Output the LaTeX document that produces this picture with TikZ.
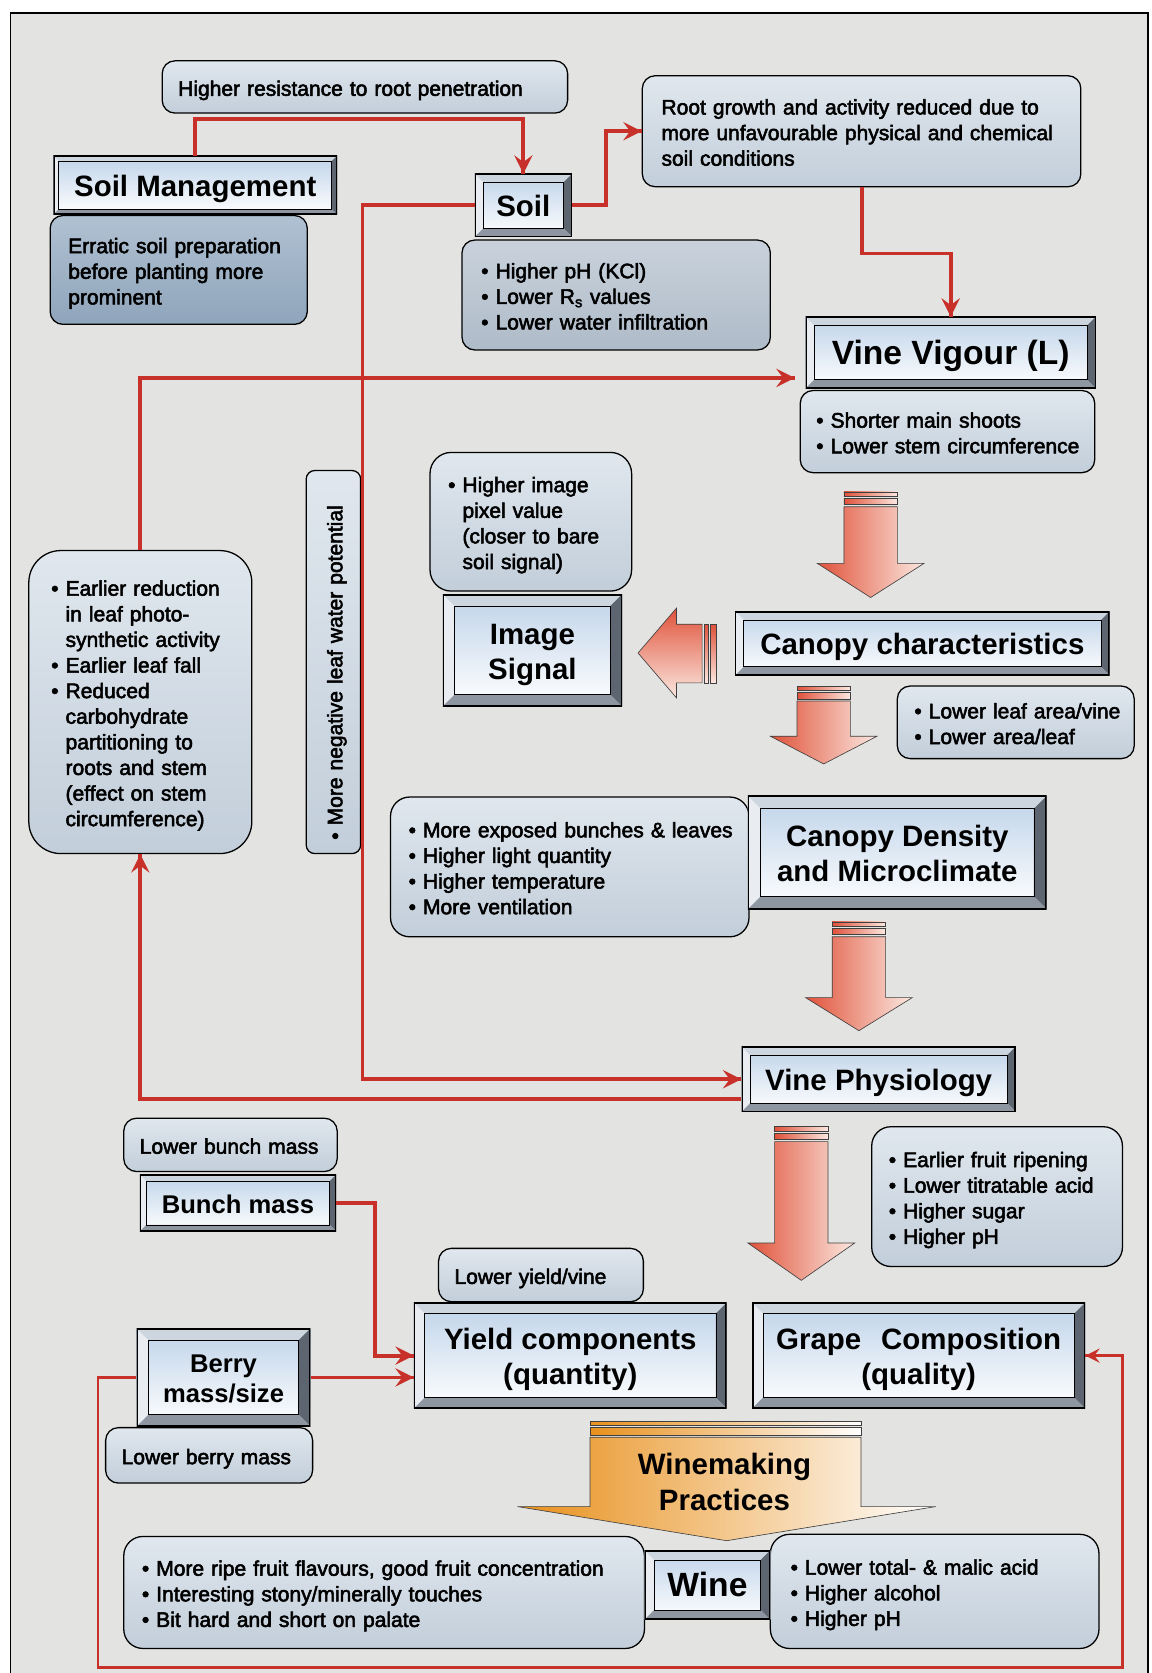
\documentclass[tikz,border=0pt]{standalone}
\usepackage{fontspec}
\setmainfont{Liberation Sans}
\newfontfamily\notefamily[FakeBold=2.5]{Liberation Sans}
\usetikzlibrary{calc,decorations.markings}

\definecolor{linkred}{HTML}{C8302A}
\definecolor{paper}{HTML}{E3E3E1}
\definecolor{notetop}{HTML}{E0E7EE}
\definecolor{notebot}{HTML}{C2CEDA}
\definecolor{steeltop}{HTML}{B0C1D2}
\definecolor{steelbot}{HTML}{8FA5BB}
\definecolor{midtop}{HTML}{C9D2DC}
\definecolor{midbot}{HTML}{AEBBC8}
\definecolor{facetop}{HTML}{BFD3E9}
\definecolor{bevtop}{HTML}{CDD5DE}
\definecolor{bevleft}{HTML}{E9EDF2}
\definecolor{bevright}{HTML}{5D6670}
\definecolor{bevbot}{HTML}{8E97A1}
\definecolor{arrowred}{HTML}{E0523A}
\definecolor{arrowpale}{HTML}{FBE8E0}
\definecolor{wineorange}{HTML}{E8901C}

\newcommand\boxhead{\fontsize{27.6}{33}\selectfont\bfseries}
\newcommand\boxbig{\fontsize{31.5}{34}\selectfont\bfseries}
\newcommand\boxsmall{\fontsize{24}{28}\selectfont\bfseries}
\newcommand\boxbody{\notefamily\fontsize{19.7}{24}\selectfont}
\newcommand\itembullet{\textbullet\ }
\newcommand\itemgap{\phantom{\textbullet\ }}
\newcommand\notelines[1]{\raisebox{-3.5pt}[\height][\depth]{\begin{tabular}{@{}l@{}}#1\end{tabular}}}
\newcommand\headlines[1]{\raisebox{-4pt}[\height][\depth]{\begin{tabular}{@{}c@{}}#1\end{tabular}}}

\tikzset{flow/.style = {draw=linkred, line width=3.6pt, decoration={markings, mark=at position 1 with {\arrow[scale=1.6]{stealth}}}, postaction={decorate}}}
\tikzset{blockedge/.style = {draw=black!75, line width=0.6pt}}
\tikzset{note/.style = {draw=black, line width=1.2pt, rounded corners=12pt,
    top color=notetop, bottom color=notebot, inner sep=0pt, align=left, font=\boxbody}}
\tikzset{bevel/.style = {rectangle, inner sep=0pt, align=center, font=\boxhead,
    path picture={
      \coordinate (bv1) at (path picture bounding box.south west);
      \coordinate (bv2) at (path picture bounding box.south east);
      \coordinate (bv3) at (path picture bounding box.north east);
      \coordinate (bv4) at (path picture bounding box.north west);
      \shade[top color=facetop, bottom color=white] (bv1) rectangle (bv3);
      \fill[bevtop] (bv4) -- (bv3) -- ([shift={(-#1pt,-#1pt)}]bv3) -- ([shift={(#1pt,-#1pt)}]bv4) -- cycle;
      \fill[bevleft] (bv4) -- (bv1) -- ([shift={(#1pt,#1pt)}]bv1) -- ([shift={(#1pt,-#1pt)}]bv4) -- cycle;
      \fill[bevright] (bv3) -- (bv2) -- ([shift={(-#1pt,#1pt)}]bv2) -- ([shift={(-#1pt,-#1pt)}]bv3) -- cycle;
      \fill[bevbot] (bv1) -- (bv2) -- ([shift={(-#1pt,#1pt)}]bv2) -- ([shift={(#1pt,#1pt)}]bv1) -- cycle;
      \draw[line width=0.7pt] ([shift={(#1pt,#1pt)}]bv1) rectangle ([shift={(-#1pt,-#1pt)}]bv3);
      \draw[line width=2.4pt] (bv1) rectangle (bv3);
    }},
  bevel/.default=8}

% down arrow with two stripes at the tail: centre x, top, end of shaft, tip
\newcommand\stripedown[4]{%
  \shade[blockedge, left color=arrowred, right color=arrowpale] (#1-25,#2) rectangle (#1+25,#2+4);
  \shade[blockedge, left color=arrowred, right color=arrowpale] (#1-25,#2+6) rectangle (#1+25,#2+12);
  \shade[blockedge, left color=arrowred, right color=arrowpale]
    (#1-25,#2+14) -- (#1+25,#2+14) -- (#1+25,#3) -- (#1+50,#3)
    -- (#1,#4) -- (#1-50,#3) -- (#1-25,#3) -- cycle;
}

\begin{document}
\begin{tikzpicture}[x=1pt, y=-1pt]
  \useasboundingbox (0,0) rectangle (1079,1568);
  \draw[line width=1.5pt, fill=paper] (10,12) rectangle (1076,1575);

  % block arrows
  \stripedown{816}{461}{528}{560}
  \stripedown{772}{643}{690}{716}
  \stripedown{805}{864}{935}{966}
  \stripedown{751}{1056}{1165}{1200}
  \shade[blockedge, top color=arrowred, bottom color=arrowpale] (660,585) rectangle (664,640);
  \shade[blockedge, top color=arrowred, bottom color=arrowpale] (666,585) rectangle (671,640);
  \shade[blockedge, top color=arrowred, bottom color=arrowpale]
    (658,585) -- (634,585) -- (634,570) -- (598,612) -- (634,654) -- (634,640) -- (658,640) -- cycle;

  % soil
  \node[note, minimum width=380, minimum height=49, text width=350] (resist) at (342,81.5)
    {\notelines{Higher resistance to root penetration}};
  \node[note, minimum width=411, minimum height=104, text width=375] (rootbox) at (807.5,123)
    {\notelines{Root growth and activity reduced due to\\ more unfavourable physical and chemical\\ soil conditions}};
  \node[note, top color=steeltop, bottom color=steelbot, minimum width=241, minimum height=102, text width=207] (erratic) at (167.5,253)
    {\notelines{Erratic soil preparation\\ before planting more\\ prominent}};
  \node[bevel=5, minimum width=266, minimum height=55] (soilmgmt) at (183,173.5) {\headlines{Soil Management}};
  \node[note, top color=midtop, bottom color=midbot, minimum width=289, minimum height=103, text width=253] (soilprop) at (577.5,276.5)
    {\notelines{\itembullet Higher pH (KCl)\\ \itembullet Lower R\textsubscript{s} values\\ \itembullet Lower water infiltration}};
  \node[bevel, minimum width=91, minimum height=59] (soil) at (490.5,192.5) {\headlines{Soil}};

  % vine and canopy
  \node[note, minimum width=276, minimum height=77, text width=246] (vigourprop) at (888,404.5)
    {\notelines{\itembullet Shorter main shoots\\ \itembullet Lower stem circumference}};
  \node[bevel, font=\boxbig, minimum width=272, minimum height=67] (vigour) at (891,330.5) {\headlines{Vine Vigour (L)}};
  \node[note, rounded corners=8pt, rotate=90, minimum width=359, minimum height=51, text width=333] (waterpot) at (312.5,620.5)
    {\notelines{\itembullet More negative leaf water potential}};
  \node[note, rounded corners=30pt, minimum width=209, minimum height=284, text width=167] (leafbox) at (131.5,658)
    {\notelines{\itembullet Earlier reduction\\ \itemgap in leaf photo-\\ \itemgap synthetic activity\\
      \itembullet Earlier leaf fall\\ \itembullet Reduced\\ \itemgap carbohydrate\\ \itemgap partitioning to\\
      \itemgap roots and stem\\ \itemgap (effect on stem\\ \itemgap circumference)}};
  \node[note, rounded corners=20pt, minimum width=189, minimum height=130, text width=155] (pixelbox) at (497.5,489)
    {\notelines{\itembullet Higher image\\ \itemgap pixel value\\ \itemgap (closer to bare\\ \itemgap soil signal)}};
  \node[bevel=11, minimum width=168, minimum height=105] (imgsignal) at (499,609.5) {\headlines{Image\\ Signal}};
  \node[bevel, minimum width=351, minimum height=60] (canopy) at (864.5,603) {\headlines{Canopy characteristics}};
  \node[note, minimum width=222, minimum height=68, text width=190] (canopyprop) at (952,677)
    {\notelines{\itembullet Lower leaf area/vine\\ \itembullet Lower area/leaf}};
  \node[note, rounded corners=18pt, minimum width=336, minimum height=131, text width=302] (densityprop) at (534,812.5)
    {\notelines{\itembullet More exposed bunches \& leaves\\ \itembullet Higher light quantity\\
      \itembullet Higher temperature\\ \itembullet More ventilation}};
  \node[bevel=12, minimum width=280, minimum height=106] (density) at (841,799) {\headlines{Canopy Density\\ and Microclimate}};
  \node[bevel, minimum width=257, minimum height=61] (physio) at (823.5,1011.5) {\headlines{Vine Physiology}};
  \node[note, rounded corners=18pt, minimum width=235, minimum height=131, text width=203] (fruitprop) at (934.5,1121.5)
    {\notelines{\itembullet Earlier fruit ripening\\ \itembullet Lower titratable acid\\
      \itembullet Higher sugar\\ \itembullet Higher pH}};

  % yield and grapes
  \node[note, minimum width=200, minimum height=50, text width=170] (bunchnote) at (216,1073) {\notelines{Lower bunch mass}};
  \node[bevel=6, font=\boxsmall, minimum width=184, minimum height=53] (bunch) at (223,1127.5) {\headlines{Bunch mass}};
  \node[note, minimum width=192, minimum height=50, text width=162] (yieldnote) at (507,1195) {\notelines{Lower yield/vine}};
  \node[bevel=10, minimum width=293, minimum height=99] (yield) at (534.5,1270.5) {\headlines{Yield components\\ (quantity)}};
  \node[bevel=10, minimum width=312, minimum height=99] (grape) at (861,1270.5) {\headlines{Grape\hspace{0.4em} Composition\\ (quality)}};
  \node[note, minimum width=194, minimum height=52, text width=164] (berrynote) at (196,1364) {\notelines{Lower berry mass}};
  \node[bevel=11, font=\boxsmall, minimum width=163, minimum height=92] (berry) at (209.5,1291) {\headlines{Berry\\ mass/size}};

  % wine
  \node[note, rounded corners=18pt, minimum width=488, minimum height=105, text width=454] (wineleft) at (360,1492.5)
    {\notelines{\itembullet More ripe fruit flavours, good fruit concentration\\
      \itembullet Interesting stony/minerally touches\\ \itembullet Bit hard and short on palate}};
  \node[note, rounded corners=18pt, minimum width=308, minimum height=107, text width=270] (wineright) at (876,1491.5)
    {\notelines{\itembullet Lower total- \& malic acid\\ \itembullet Higher alcohol\\ \itembullet Higher pH}};
  \shade[blockedge, left color=wineorange, right color=white] (553,1332) rectangle (807,1336);
  \shade[blockedge, left color=wineorange, right color=white] (553,1338) rectangle (807,1345);
  \shade[blockedge, left color=wineorange, right color=white]
    (553,1347) -- (807,1347) -- (807,1412) -- (877,1412) -- (681,1444) -- (485,1412) -- (553,1412) -- cycle;
  \node[font=\boxhead, align=center] (winemaking) at (679,1389) {Winemaking\\ Practices};
  \node[bevel=9, font=\boxbig, minimum width=118, minimum height=65] (wine) at (663,1485.5) {\headlines{Wine}};

  % red links
  \coordinate (loopcorner) at (1052,1563);
  \draw[flow] (soilmgmt.north) |- ([yshift=-5pt]resist.south) -| (soil.north);
  \draw[flow] (soil.east) -- ++(32,0) |- (rootbox.west);
  \draw[flow] (rootbox.south) -- ++(0,62) -| (vigour.north);
  \draw[flow] (soil.west) -- ++(-105,0) |- (physio.west);
  \draw[flow] ([yshift=12pt]physio.south west) -| (leafbox.south);
  \draw[flow] (leafbox.north) |- ([xshift=-10pt,yshift=10pt]vigour.south west);
  \draw[flow] (bunch.east) -- ++(36,0) |- (yield.west);
  \draw[flow] (berry.east) -- (berry.east -| yield.west);
  \draw[flow, line width=2.6pt] (berry.west) -- ++(-36,0) |- (loopcorner) |- (grape.east);
\end{tikzpicture}
\end{document}
